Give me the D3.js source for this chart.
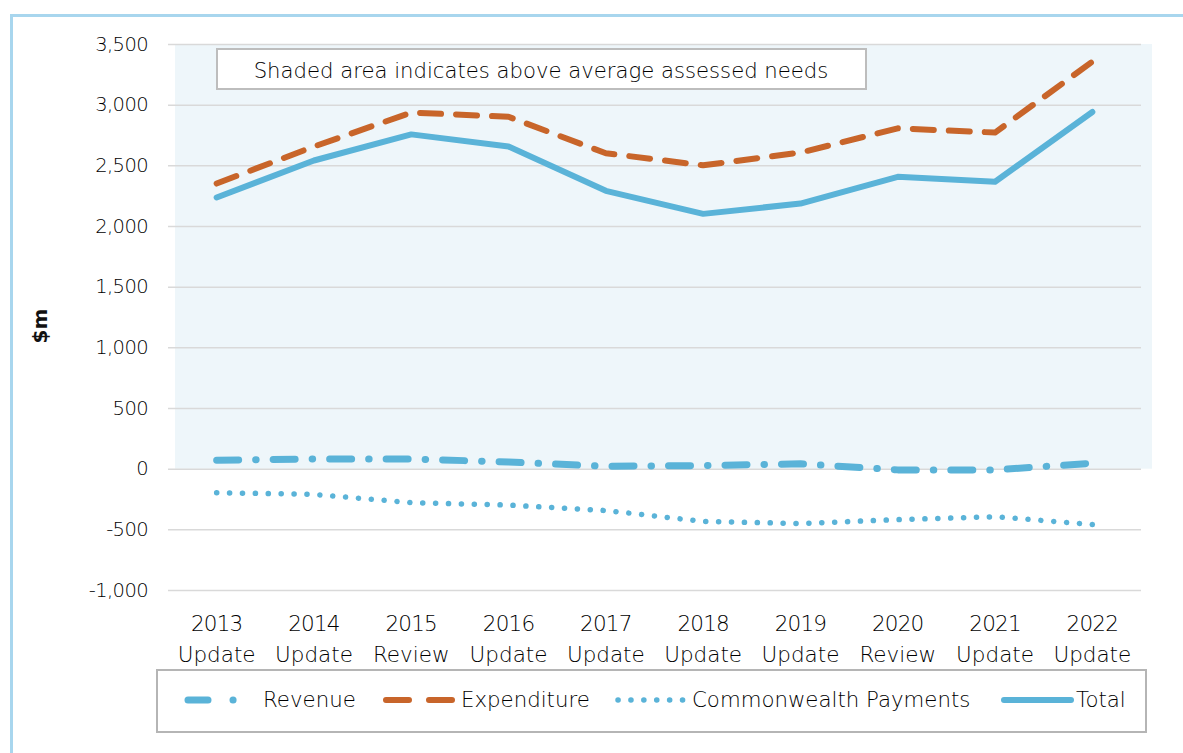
<!DOCTYPE html>
<html><head><meta charset="utf-8">
<script src="https://cdn.jsdelivr.net/npm/d3@7"></script>
<style>body{margin:0;background:#fff;} svg{display:block;font-family:"DejaVu Sans",sans-serif;}</style>
</head><body><svg id="c" width="1183" height="753"></svg>
<script>
const years = ["2013","2014","2015","2016","2017","2018","2019","2020","2021","2022"];
const kinds = ["Update","Update","Review","Update","Update","Update","Update","Review","Update","Update"];
const revenue = [70,80,80,55,20,25,40,-10,-10,45];
const expenditure = [2350,2655,2935,2900,2600,2500,2605,2805,2770,3355];
const commonwealth = [-198,-212,-280,-300,-345,-435,-452,-420,-396,-460];
const total = [2235,2540,2755,2655,2290,2100,2185,2405,2365,2940];
const yTicks = [3500,3000,2500,2000,1500,1000,500,0,-500,-1000];
const seriesNames = ["Revenue","Expenditure","Commonwealth Payments","Total"];

const svg = d3.select("#c");
const blue = "#5ab3d8", orange = "#c8652a";
const FW = 200, TXT = "#000";
const x = d3.scaleBand().domain(years).range([168,1141]);
const y = d3.scaleLinear().domain([-1000,3500]).range([590,44]);

svg.append("path").attr("d","M11.5,753 V15.5 H1183").attr("fill","none").attr("stroke","#a8d6ee").attr("stroke-width",3);

svg.append("rect").attr("x",175).attr("y",y(3500)).attr("width",1152-175).attr("height",y(0)-y(3500)).attr("fill","#eef6fa");

svg.append("g").selectAll("line").data(yTicks).join("line")
  .attr("x1",168).attr("x2",1141).attr("y1",d=>y(d)+0.5).attr("y2",d=>y(d)+0.5)
  .attr("stroke","#d9d9d9").attr("stroke-width",1.5);

const fmt = d3.format(",");
const yAxis = d3.axisLeft(y).tickValues(yTicks).tickSize(0).tickPadding(0).tickFormat(d=>fmt(d).replace("\u2212","-"));
const gy = svg.append("g").attr("transform","translate(148,0)").call(yAxis);
gy.select(".domain").remove();
gy.selectAll("text").attr("font-size",19.5).attr("fill",TXT).attr("font-family","DejaVu Sans").attr("font-weight",FW).attr("letter-spacing",-0.6);

const gx = svg.append("g").attr("transform",`translate(0,${y(-1000)})`).call(d3.axisBottom(x).tickSize(0).tickFormat(""));
gx.select(".domain").remove();
gx.selectAll(".tick").each(function(d,i){
  const t = d3.select(this).append("text").attr("fill",TXT).attr("font-size",21.5).attr("text-anchor","middle").attr("font-family","DejaVu Sans").attr("font-weight",FW);
  t.append("tspan").attr("x",0).attr("y",41).attr("letter-spacing",-0.8).text(years[i]);
  t.append("tspan").attr("x",0).attr("y",72).text(kinds[i]);
});

svg.append("text").attr("transform","translate(47,326) rotate(-90)").attr("text-anchor","middle")
  .attr("font-size",20).attr("font-weight","bold").attr("fill","#111").text("$m");

svg.append("rect").attr("x",217).attr("y",49).attr("width",649).attr("height",40).attr("fill","#fff").attr("stroke","#bdbdbd").attr("stroke-width",2);
svg.append("text").attr("x",541).attr("y",78).attr("text-anchor","middle").attr("font-size",21.2).attr("font-weight",FW).attr("fill",TXT).text("Shaded area indicates above average assessed needs");

const line = d3.line().x((d,i)=>x(years[i])+x.bandwidth()/2).y(d=>y(d));
const styles = [
  {data:revenue, color:blue, w:7, dash:"22 17 0.5 17"},
  {data:expenditure, color:orange, w:6, dash:"21 15"},
  {data:commonwealth, color:blue, w:5.5, dash:"0.1 12.8"},
  {data:total, color:blue, w:6, dash:null}
];
styles.forEach(s=>{
  svg.append("path").datum(s.data).attr("d",line).attr("fill","none").attr("stroke",s.color)
    .attr("stroke-width",s.w).attr("stroke-linecap","round").attr("stroke-linejoin","round")
    .attr("stroke-dasharray",s.dash);
});

svg.append("rect").attr("x",157).attr("y",670).attr("width",989).attr("height",62).attr("fill","#fff").attr("stroke","#b5b5b5").attr("stroke-width",2);
const legendPos = [{x0:188,x1:236,tx:263},{x0:386,x1:452,tx:461},{x0:618,x1:684,tx:692},{x0:1004,x1:1071,tx:1076}];
const legendDash = ["20 25 0.1 100","23 20",null,null];
const lg = svg.append("g");
seriesNames.forEach((n,i)=>{
  const p = legendPos[i], s = styles[i];
  lg.append("line").attr("x1",p.x0).attr("x2",p.x1).attr("y1",700).attr("y2",700)
    .attr("stroke",s.color).attr("stroke-width",s.w).attr("stroke-linecap","round")
    .attr("stroke-dasharray", legendDash[i] || s.dash);
  lg.append("text").attr("x",p.tx).attr("y",707).attr("font-size",21.3).attr("font-weight",FW).attr("fill",TXT).text(n);
});
</script></body></html>
